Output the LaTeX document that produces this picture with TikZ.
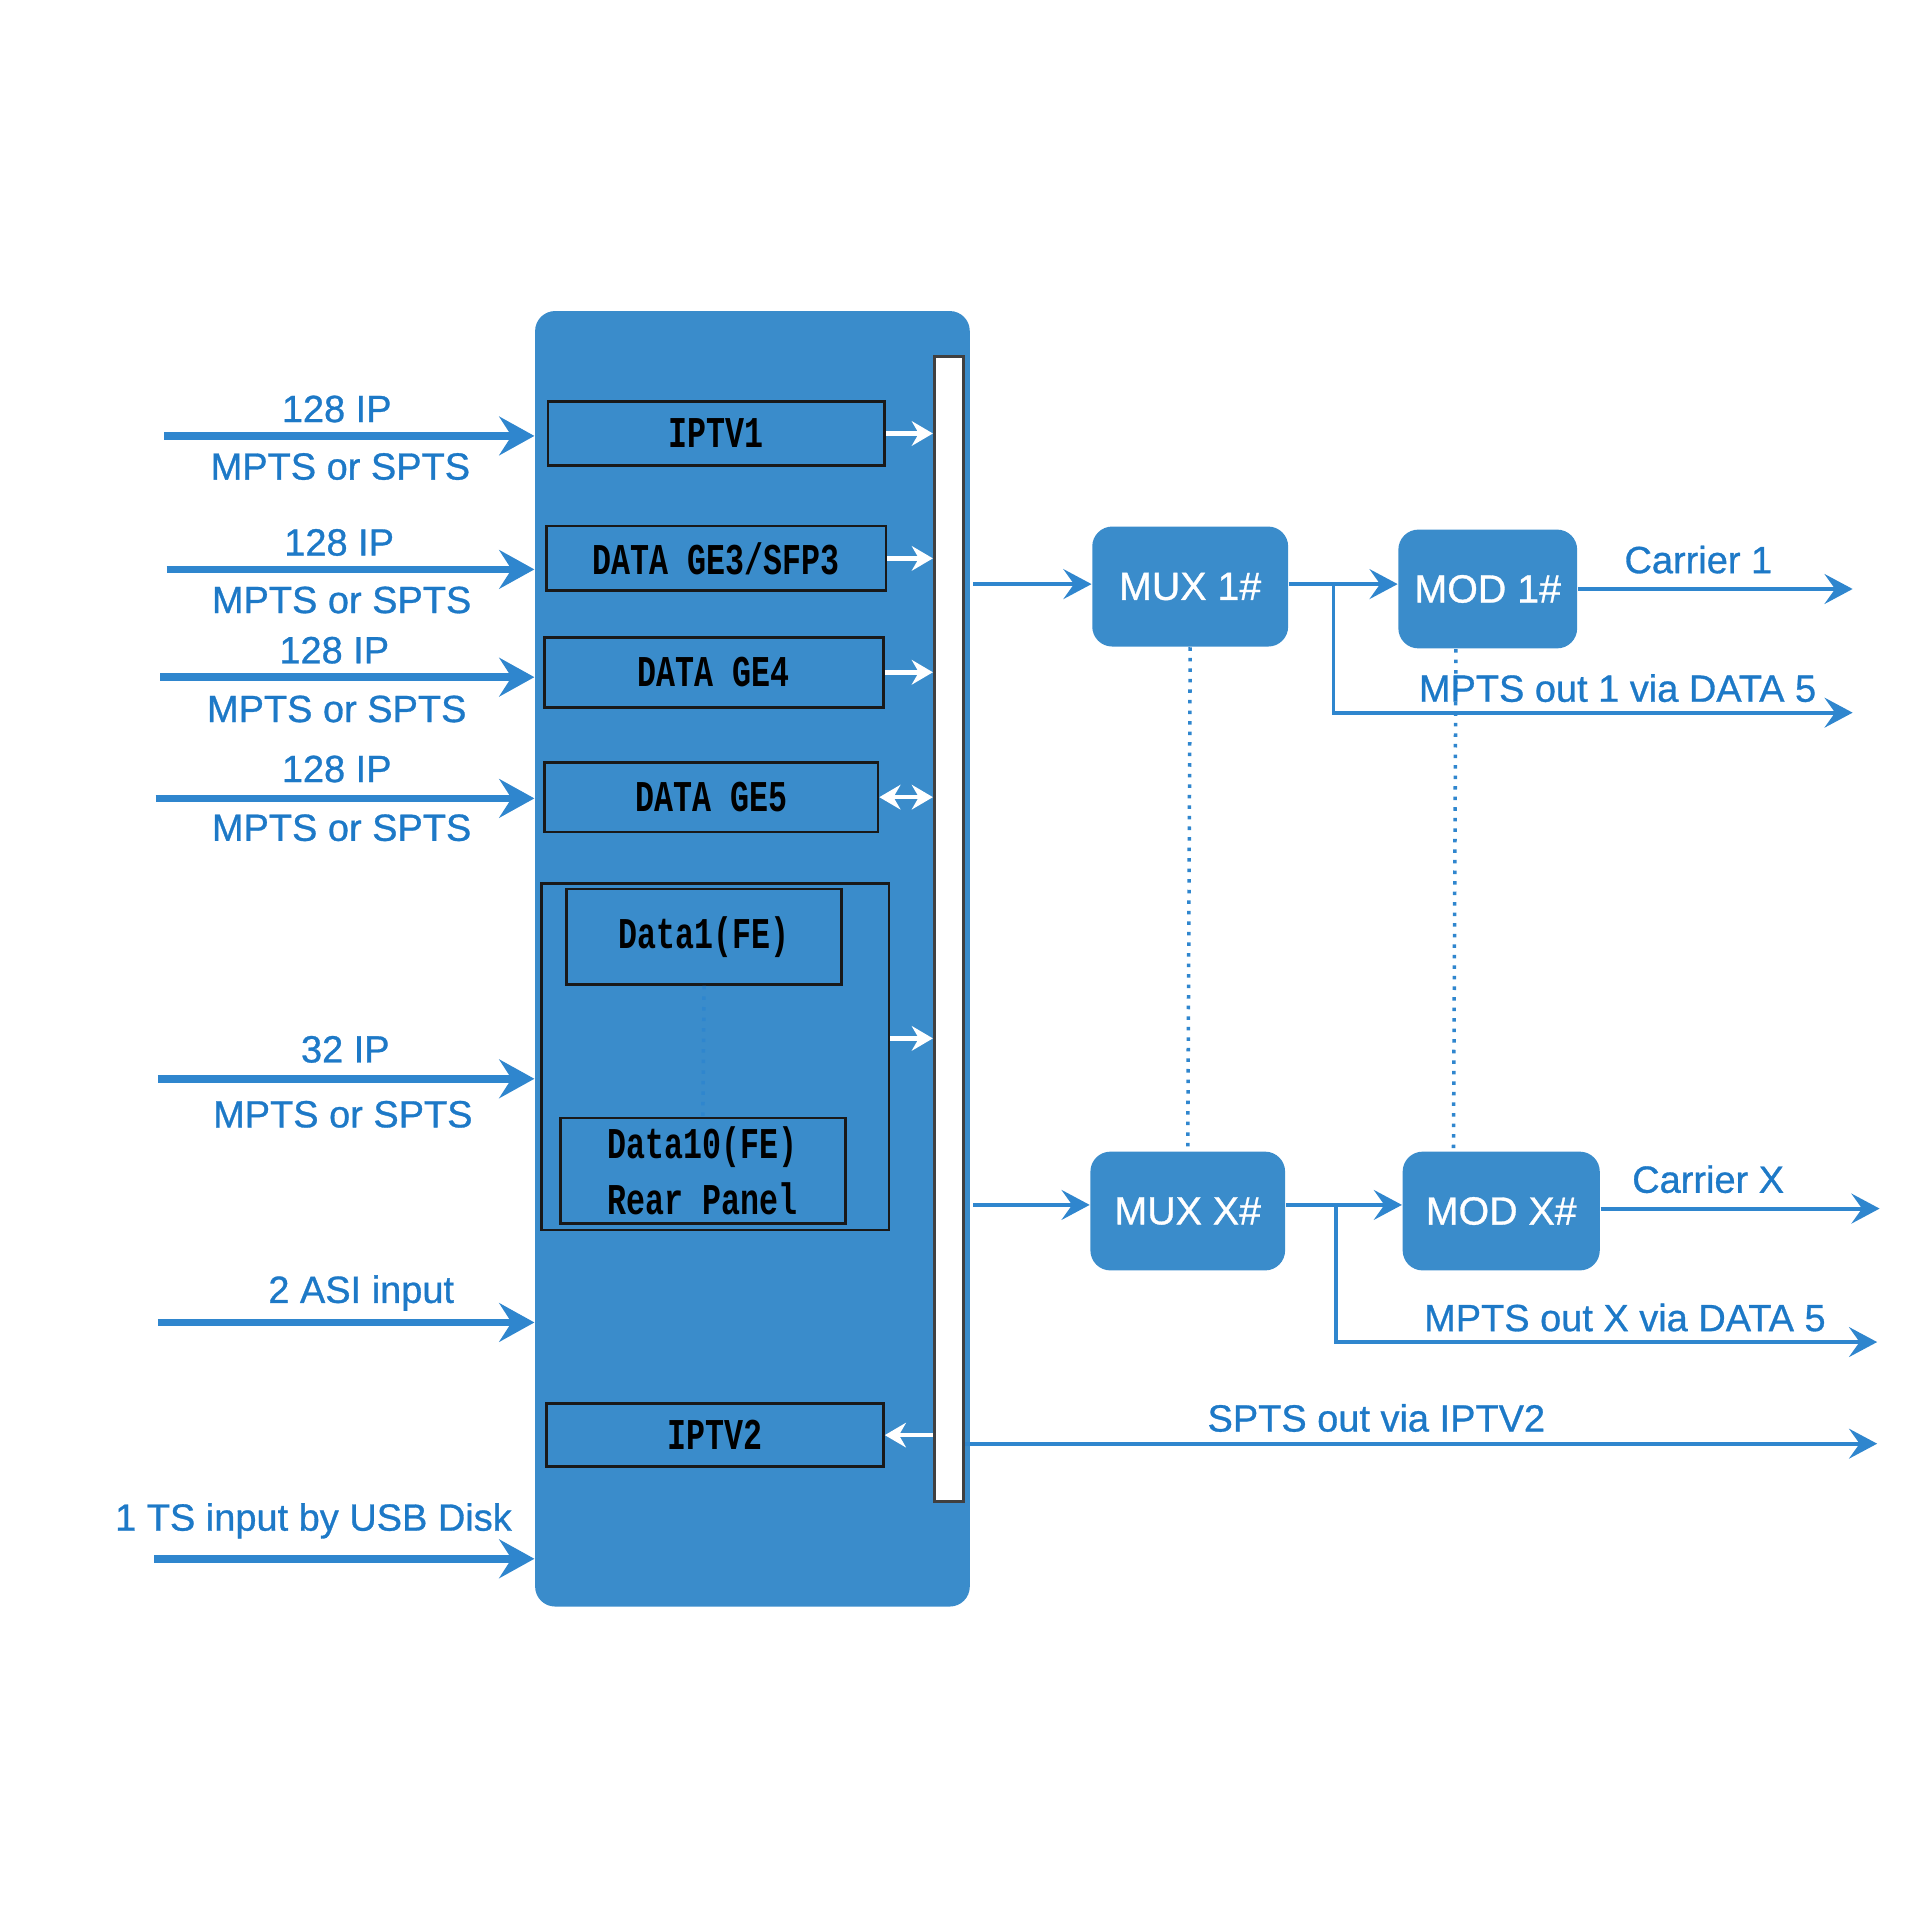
\documentclass[tikz,border=0pt]{standalone}
\usepackage{fontspec}
\setmainfont{Liberation Sans}
\newfontfamily\labelfont[UprightFeatures={FakeBold=0.8}]{Liberation Sans}
\newfontfamily\portfont[FakeStretch=0.72]{Liberation Mono}
\usetikzlibrary{arrows.meta,positioning}
\definecolor{panelblue}{HTML}{3A8CCB}
\definecolor{wireblue}{HTML}{2F86CE}
\definecolor{labelblue}{HTML}{1D79C7}
\newcommand{\pu}{0.12245mm}
\tikzset{
    port/.style={draw=black!90, line width=0.8pt, fill=panelblue, font=\portfont\bfseries\fontsize{12.5}{16}\selectfont, align=center, inner sep=0pt},
    block/.style={fill=panelblue, rounded corners=2mm, text=white, font=\labelfont\fontsize{11.2}{13}\selectfont, inner sep=0pt},
    lbl/.style={text=labelblue, font=\labelfont\fontsize{10.8}{13}\selectfont, inner sep=0pt},
    feed/.style={wireblue, line width=2.2pt, >={Stealth[length=10pt,width=11pt,inset=3.5pt]}, ->},
    outwire/.style={wireblue, line width=1.1pt, >={Stealth[length=8pt,width=8.5pt,inset=3pt]}, ->},
    link/.style={white, line width=1.3pt, >={Stealth[length=6pt,width=7pt,inset=2pt]}, ->},
    dotwire/.style={wireblue, line width=1pt, dotted},
}
\begin{document}
\begin{tikzpicture}[x=\pu, y=-\pu]
    \useasboundingbox (0,0) rectangle (1568,1568);
    \node[fill=panelblue, rounded corners=2mm, minimum width=355*\pu, minimum height=1058*\pu] (panel) at (614.5,783) {};
    \node[fill=white, draw=black!75, line width=0.8pt, minimum width=24*\pu, minimum height=935*\pu] (bus) at (775,758.5) {};
    \node[port, minimum width=275*\pu, minimum height=52*\pu] (iptv1) at (585,354) {IPTV1};
    \node[port, minimum width=277*\pu, minimum height=53*\pu] (ge3) at (585,456) {DATA GE3/SFP3};
    \node[port, minimum width=277*\pu, minimum height=57*\pu] (ge4) at (583,549) {DATA GE4};
    \node[port, minimum width=272*\pu, minimum height=57*\pu] (ge5) at (581,651) {DATA GE5};
    \node[draw=black!90, line width=0.8pt, minimum width=284*\pu, minimum height=283*\pu] (fe) at (584,863) {};
    \node[port, minimum width=225*\pu, minimum height=78*\pu] (data1) at (575,765) {Data1(FE)};
    \node[port, minimum width=233*\pu, minimum height=86*\pu] (data10) at (574,956) {Data10(FE)\\Rear Panel};
    \node[port, minimum width=275*\pu, minimum height=51*\pu] (iptv2) at (584,1172) {IPTV2};
    \draw[dotwire] (data1.south) -- (data10.north);
    \draw[link] (iptv1.east) -- (iptv1.east -| bus.west);
    \draw[link] (ge3.east) -- (ge3.east -| bus.west);
    \draw[link] (ge4.east) -- (ge4.east -| bus.west);
    \draw[link, <->] (ge5.east) -- (ge5.east -| bus.west);
    \draw[link] ([yshift=15*\pu]fe.east) -- ([yshift=15*\pu]fe.east -| bus.west);
    \draw[link] (iptv2.east -| bus.west) -- (iptv2.east);

    \coordinate (in1) at (134,356);
    \coordinate (in2) at (136,465);
    \coordinate (in3) at (131,553);
    \coordinate (in4) at (127,652);
    \coordinate (in5) at (129,881);
    \coordinate (in6) at (129,1080);
    \coordinate (in7) at (126,1273);
    \foreach \n in {1,...,7} {
        \draw[feed] (in\n) -- (in\n -| panel.west);
    }
    \node[lbl] (ip1) at (275,334) {128 IP};
    \node[lbl] (ts1) at (278,381) {MPTS or SPTS};
    \node[lbl] (ip2) at (277,443) {128 IP};
    \node[lbl] (ts2) at (279,490) {MPTS or SPTS};
    \node[lbl] (ip3) at (273,531) {128 IP};
    \node[lbl] (ts3) at (275,579) {MPTS or SPTS};
    \node[lbl] (ip4) at (275,628) {128 IP};
    \node[lbl] (ts4) at (279,676) {MPTS or SPTS};
    \node[lbl] (ip5) at (282,857) {32 IP};
    \node[lbl] (ts5) at (280,910) {MPTS or SPTS};
    \node[lbl] (asi) at (295,1056) {2 ASI input};
    \node[lbl] (usb) at (256,1242) {1 TS input by USB Disk};

    \node[block, minimum width=160*\pu, minimum height=98*\pu] (mux1) at (972,479) {MUX 1\#};
    \node[block, minimum width=146*\pu, minimum height=97*\pu] (mod1) at (1215,481) {MOD 1\#};
    \node[block, minimum width=159*\pu, minimum height=97*\pu] (muxx) at (970,989) {MUX X\#};
    \node[block, minimum width=161*\pu, minimum height=97*\pu] (modx) at (1226,989) {MOD X\#};
    \draw[dotwire] (mux1.south) -- (muxx.north);
    \draw[dotwire] (1189,0 |- mod1.south) -- (1187,0 |- modx.north);

    \coordinate (tap1) at (795,477);
    \coordinate (tapx) at (795,984);
    \coordinate (fork1) at (1089,477);
    \coordinate (forkx) at (1091,984);
    \coordinate (carrier1) at (1513,481);
    \coordinate (carrierx) at (1535,987);
    \coordinate (data5a) at (1513,582);
    \coordinate (data5x) at (1533,1096);
    \coordinate (sptsend) at (1533,1179);
    \draw[outwire] (tap1) -- (tap1 -| mux1.west);
    \draw[outwire] (mux1.east |- tap1) -- (tap1 -| mod1.west);
    \draw[outwire] (fork1) |- (data5a);
    \draw[outwire] (mod1.east |- carrier1) -- (carrier1);
    \draw[outwire] (tapx) -- (tapx -| muxx.west);
    \draw[outwire] (muxx.east |- tapx) -- (tapx -| modx.west);
    \draw[outwire] (forkx) |- (data5x);
    \draw[outwire] (modx.east |- carrierx) -- (carrierx);
    \draw[outwire] (bus.east |- sptsend) -- (sptsend);
    \node[lbl] (car1) at (1387,457) {Carrier 1};
    \node[lbl] (mpts1) at (1321,562) {MPTS out 1 via DATA 5};
    \node[lbl] (carx) at (1395,963) {Carrier X};
    \node[lbl] (mptsx) at (1327,1076) {MPTS out X via DATA 5};
    \node[lbl] (spts) at (1124,1158) {SPTS out via IPTV2};
\end{tikzpicture}
\end{document}
